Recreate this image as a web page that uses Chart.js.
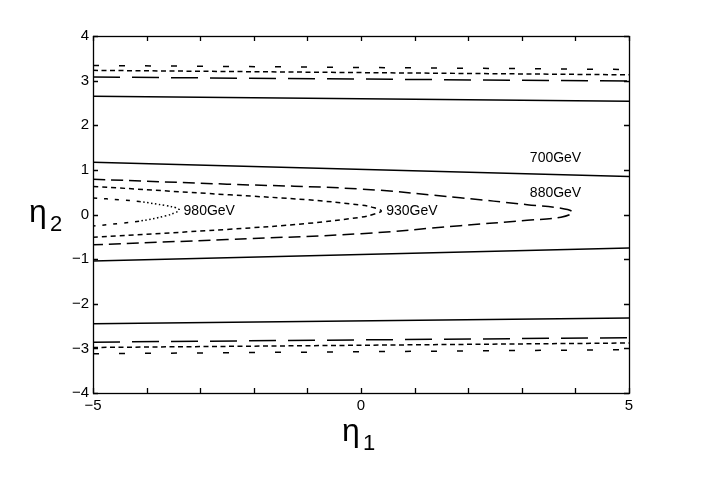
<!DOCTYPE html>
<html>
<head>
<meta charset="utf-8">
<script src="https://cdn.jsdelivr.net/npm/chart.js@4/dist/chart.umd.min.js"></script>
<style>
html,body{margin:0;padding:0;background:#fff;}
#wrap{width:708px;height:481px;position:relative;}
</style>
</head>
<body>
<div id="wrap"><canvas id="c" width="708" height="481"></canvas></div>
<script>
// ---- data ----
const xTicks = [-5,-4,-3,-2,-1,0,1,2,3,4,5];
const xTickLabels = ['−5','','','','','0','','','','','5'];
const yTicks = [-4,-3,-2,-1,0,1,2,3,4];
const yTickLabels = ['−4','−3','−2','−1','0','1','2','3','4'];

// nearly straight outer / 700GeV branches, sampled at the plot edges
const edgeX = [-5, 5];
const g700TopOuter = [2.65, 2.54];
const g700TopInner = [1.17, 0.85];
const g700BotInner = [-1.04, -0.75];
const g700BotOuter = [-2.45, -2.32];
const g880TopOuter = [3.08, 2.99];
const g880BotOuter = [-2.86, -2.76];
const g930TopOuter = [3.23, 3.13];
const g930BotOuter = [-2.98, -2.88];
const g980TopOuter = [3.34, 3.25];
const g980BotOuter = [-3.12, -3.03];

// closed-tip inner contours
const g880X = [-5, -2.5, 0, 1.85, 3.1, 3.73, 3.95, 3.73, 3.1, 1.85, 0, -2.5, -5];
const g880Y = [0.79, 0.68, 0.57, 0.375, 0.22, 0.14, 0.05, -0.06, -0.13, -0.25, -0.43, -0.56, -0.68];
const g930X = [-5, -2.45, -1, 0, 0.25, 0.38, 0.25, 0, -1, -2.45, -5];
const g930Y = [0.63, 0.44, 0.33, 0.21, 0.15, 0.08, 0.01, -0.06, -0.2, -0.33, -0.51];
const g980X = [-5, -4.5, -4.14, -3.64, -3.45, -3.39, -3.45, -3.64, -4.14, -4.5, -5];
const g980Y = [0.37, 0.33, 0.29, 0.2, 0.15, 0.1, 0.05, -0.03, -0.15, -0.2, -0.26];

const labelText = ['700GeV', '880GeV', '930GeV', '980GeV'];
const labelX = [3.15, 3.15, 0.47, -3.31];
const labelY = [1.26, 0.47, 0.07, 0.07];

// ---- helpers ----
const pts = (xs, ys) => xs.map((x, i) => ({x: x, y: ys[i]}));
const line = (xs, ys, dash, extra) => Object.assign({
  data: pts(xs, ys), showLine: true, borderColor: '#000', borderWidth: 1.5,
  borderDash: dash, pointRadius: 0, pointHoverRadius: 0, fill: false, tension: 0
}, extra || {});

const FONT = '"Liberation Sans", Arial, Helvetica, sans-serif';

const datasets = [
  line(edgeX, g700TopOuter, []),
  line(edgeX, g700TopInner, []),
  line(edgeX, g700BotInner, []),
  line(edgeX, g700BotOuter, []),
  line(edgeX, g880TopOuter, [27, 12]),
  line(edgeX, g880BotOuter, [27, 12]),
  line(edgeX, g930TopOuter, [5, 3.5]),
  line(edgeX, g930BotOuter, [5, 3.5]),
  line(edgeX, g980TopOuter, [6, 20]),
  line(edgeX, g980BotOuter, [6, 20]),
  line(g880X, g880Y, [12, 6], {tension: 0.4}),
  line(g930X, g930Y, [5, 4], {tension: 0.4}),
  line(g980X, g980Y, [4, 7], {tension: 0.4, segment: {
    borderDash: ctx => (ctx.p0.parsed.x > -4.2 && ctx.p1.parsed.x > -4.2) ? [1.5, 2.5] : [4, 7]
  }})
];

const framePlugin = {
  id: 'frame',
  afterDatasetsDraw(chart) {
    const {ctx, chartArea: a, scales: {x, y}} = chart;
    ctx.save();
    ctx.strokeStyle = '#000';
    ctx.lineWidth = 1.3;
    ctx.setLineDash([]);
    ctx.strokeRect(Math.round(a.left) + 0.5, Math.round(a.top) + 0.5,
                   Math.round(a.right - a.left), Math.round(a.bottom - a.top));
    const L = 5;
    ctx.beginPath();
    xTicks.forEach(v => {
      const px = Math.round(x.getPixelForValue(v)) + 0.5;
      ctx.moveTo(px, a.bottom); ctx.lineTo(px, a.bottom - L);
      ctx.moveTo(px, a.top); ctx.lineTo(px, a.top + L);
    });
    yTicks.forEach(v => {
      const py = Math.round(y.getPixelForValue(v)) + 0.5;
      ctx.moveTo(a.left, py); ctx.lineTo(a.left + L, py);
      ctx.moveTo(a.right, py); ctx.lineTo(a.right - L, py);
    });
    ctx.stroke();
    // contour labels
    ctx.fillStyle = '#000';
    ctx.font = '14px ' + FONT;
    ctx.textAlign = 'left';
    ctx.textBaseline = 'middle';
    labelText.forEach((t, i) => {
      ctx.fillText(t, x.getPixelForValue(labelX[i]), y.getPixelForValue(labelY[i]));
    });
    // axis titles with subscripts
    const cx = (a.left + a.right) / 2;
    ctx.textBaseline = 'alphabetic';
    ctx.font = '32px ' + FONT;
    ctx.fillText('η', cx - 19, 441);
    ctx.font = '22px ' + FONT;
    ctx.fillText('1', cx + 2, 450);
    const cy = (a.top + a.bottom) / 2;
    ctx.font = '32px ' + FONT;
    ctx.fillText('η', 29, cy + 7);
    ctx.font = '22px ' + FONT;
    ctx.fillText('2', 50, cy + 16);
    ctx.restore();
  }
};

new Chart(document.getElementById('c'), {
  type: 'scatter',
  data: {datasets: datasets},
  plugins: [framePlugin],
  options: {
    responsive: false,
    animation: false,
    layout: {padding: {left: 0, right: 79, top: 36, bottom: 0}},
    plugins: {legend: {display: false}, tooltip: {enabled: false}},
    scales: {
      x: {
        type: 'linear', min: -5, max: 5,
        afterBuildTicks: s => { s.ticks = xTicks.map(v => ({value: v})); },
        afterFit: s => { s.height = 88; },
        grid: {display: false, drawTicks: false},
        border: {display: false},
        ticks: {
          autoSkip: false, maxRotation: 0, padding: 4, color: '#000',
          font: {family: FONT, size: 15},
          callback: (v) => xTickLabels[xTicks.indexOf(v)]
        }
      },
      y: {
        type: 'linear', min: -4, max: 4,
        afterBuildTicks: s => { s.ticks = yTicks.map(v => ({value: v})); },
        afterFit: s => { s.width = 93; },
        grid: {display: false, drawTicks: false},
        border: {display: false},
        ticks: {
          autoSkip: false, padding: 4, color: '#000',
          font: {family: FONT, size: 15},
          callback: (v) => yTickLabels[yTicks.indexOf(v)]
        }
      }
    }
  }
});
</script>
</body>
</html>
